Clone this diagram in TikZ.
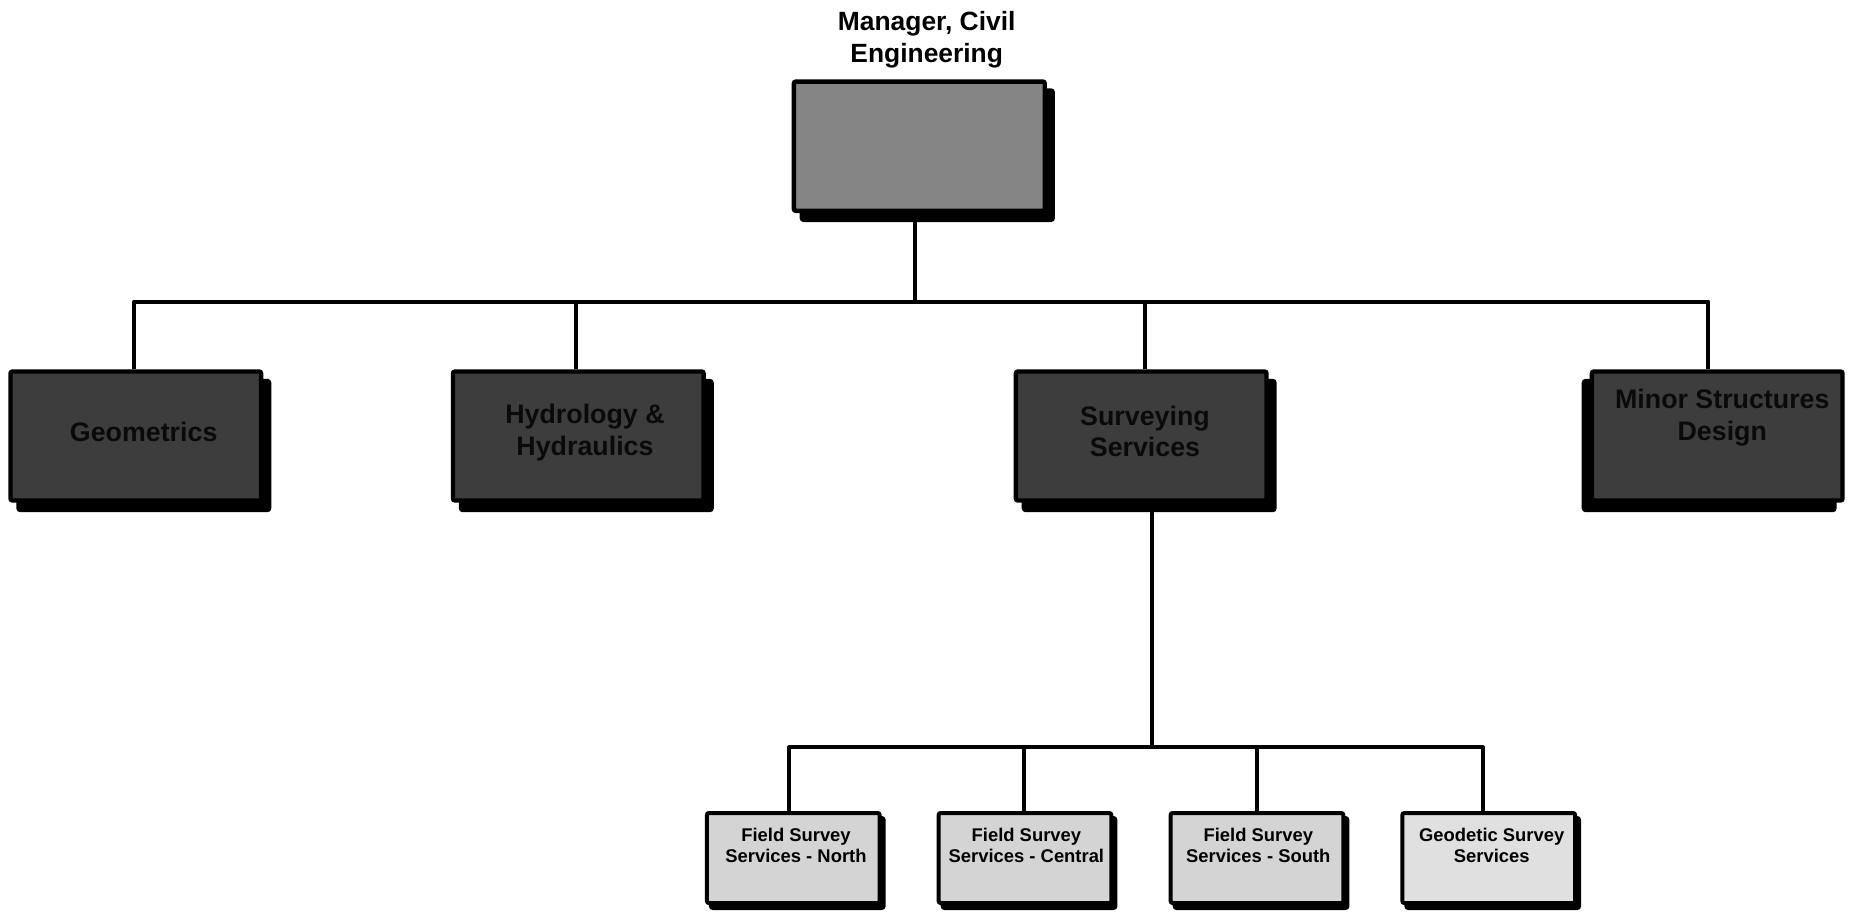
\documentclass[tikz,border=0pt]{standalone}
\usepackage{fontspec}
\setmainfont{Liberation Sans}
\definecolor{mgrgray}{HTML}{858585}
\definecolor{topgray}{HTML}{3D3D3D}
\definecolor{lowgray}{HTML}{D4D4D4}
\definecolor{lowgrayb}{HTML}{E0E0E0}
\definecolor{txtdark}{HTML}{0A0A0A}
\begin{document}
\begin{tikzpicture}[x=0.5pt,y=-0.5pt,
  shadowed/.style 2 args={preaction={fill=black,draw=black,transform canvas={shift={(#1,#2)}}}},
  box/.style={draw=black, line width=2.2pt, rounded corners=1pt, inner sep=0pt},
  mgrbox/.style={box, fill=mgrgray, minimum width=125.45pt, minimum height=64.65pt, shadowed={4pt}{-4.5pt}},
  topbox/.style={box, fill=topgray, minimum width=125.3pt, minimum height=64.5pt},
  lowbox/.style={box, line width=2pt, fill=lowgray, minimum width=86.35pt, minimum height=45pt, shadowed={2pt}{-2.5pt}},
  mgrtext/.style={font=\bfseries\fontsize{13.2}{16}\selectfont, align=center, inner sep=0pt},
  toptext/.style={font=\bfseries\fontsize{13.4}{15.8}\selectfont, align=center, inner sep=0pt, text=txtdark},
  lowtext/.style={font=\bfseries\fontsize{9.2}{10.5}\selectfont, align=center, inner sep=0pt},
  conn/.style={draw=black, line width=2.15pt, line join=round}
]
\useasboundingbox (0,0) rectangle (1852,911);

% boxes
\node[mgrbox] (mgr) at (919.3,146.2) {};
\node[topbox, shadowed={4pt}{-4.75pt}] (geo) at (135.8,436) {};
\node[topbox, shadowed={4pt}{-4.75pt}] (hyd) at (578.3,436) {};
\node[topbox, shadowed={4pt}{-4.75pt}] (surv) at (1141.2,436) {};
\node[topbox, shadowed={-4pt}{-4.75pt}] (minor) at (1717.2,436) {};
\node[lowbox] (fs1) at (793.3,858) {};
\node[lowbox] (fs2) at (1025,858) {};
\node[lowbox] (fs3) at (1257,858) {};
\node[lowbox, fill=lowgrayb] (gs) at (1488.7,858) {};

% texts
\node[mgrtext] (mgrt) at (926.7,39.5) {Manager, Civil\\Engineering};
\node[toptext] (geot) at (143.7,432) {Geometrics};
\node[toptext] (hydt) at (585,432.5) {Hydrology \&\\Hydraulics};
\node[toptext] (survt) at (1145,431.5) {Surveying\\Services};
\node[toptext] (minort) at (1722.3,417.7) {Minor Structures\\Design};
\node[lowtext] (fs1t) at (796,845.8) {Field Survey\\Services - North};
\node[lowtext] (fs2t) at (1026.4,845.8) {Field Survey\\Services - Central};
\node[lowtext] (fs3t) at (1258.3,845.8) {Field Survey\\Services - South};
\node[lowtext] (gst) at (1491.7,845.8) {Geodetic Survey\\Services};

% connectors
\coordinate (bus) at (915.3,301.7);
\coordinate (bus2) at (1151.7,747.3);
\draw[conn] ([xshift=-2pt]mgr.south) -- (bus);
\draw[conn] ([xshift=-0.75pt]geo.north) |- (bus) -| ([xshift=-4.45pt]minor.north);
\draw[conn] ([xshift=-1.15pt]hyd.north) |- (bus);
\draw[conn] ([xshift=1.9pt]surv.north) |- (bus);
\draw[conn] ([xshift=5.25pt]surv.south) -- (bus2);
\draw[conn] ([xshift=-2pt]fs1.north) |- (bus2) -| ([xshift=-3pt]gs.north);
\draw[conn] ([xshift=-0.35pt]fs2.north) |- (bus2);
\draw[conn] ([xshift=0.15pt]fs3.north) |- (bus2);
\end{tikzpicture}
\end{document}
